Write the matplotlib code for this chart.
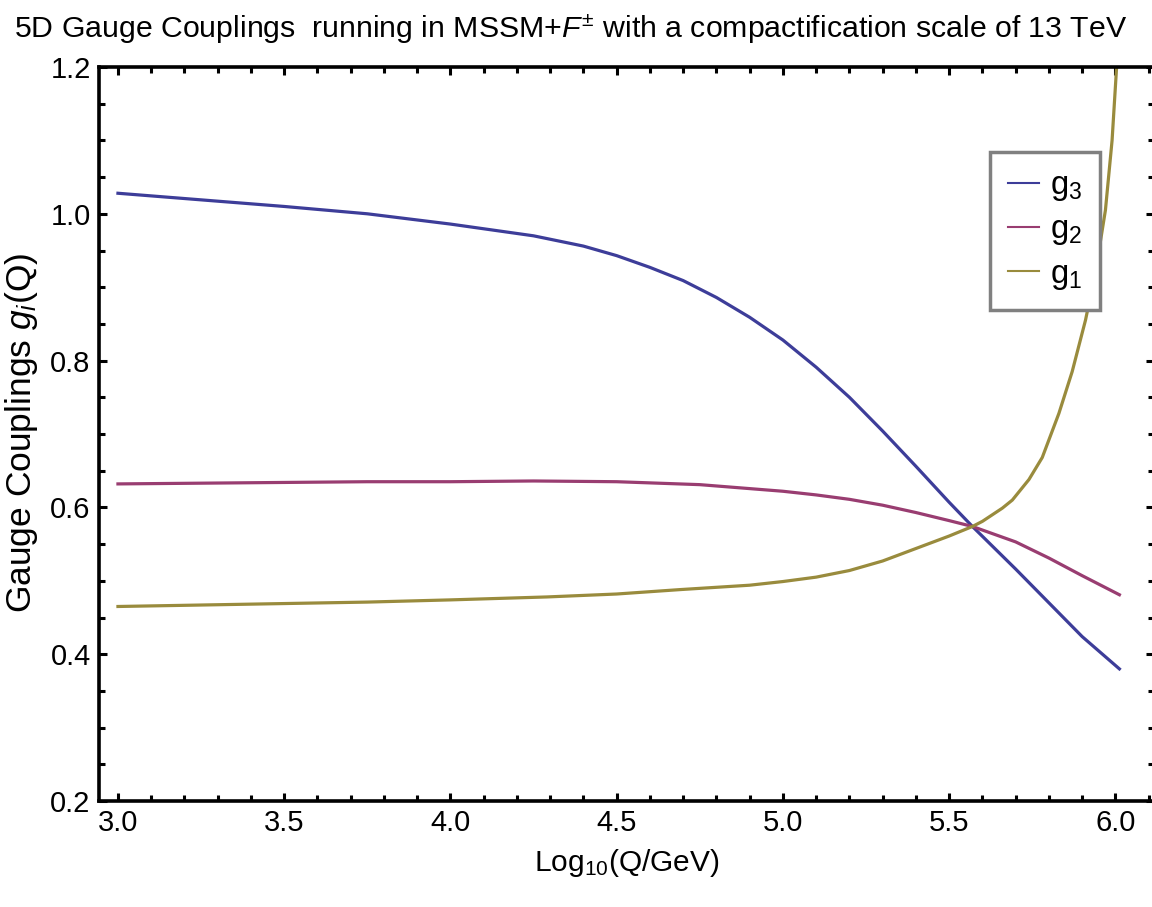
import matplotlib
matplotlib.use("Agg")
import matplotlib.pyplot as plt
from matplotlib.ticker import MultipleLocator

# values
logq_g3 = [3.0, 3.25, 3.5, 3.75, 4.0, 4.25, 4.4, 4.5, 4.6, 4.7, 4.8, 4.9, 5.0, 5.1, 5.2, 5.3, 5.4, 5.5, 5.57, 5.7, 5.8, 5.9, 6.012]
g3 = [1.028, 1.019, 1.010, 1.000, 0.986, 0.970, 0.956, 0.943, 0.927, 0.909, 0.886, 0.859, 0.828, 0.791, 0.750, 0.704, 0.656, 0.607, 0.574, 0.516, 0.470, 0.424, 0.380]

logq_g2 = [3.0, 3.25, 3.5, 3.75, 4.0, 4.25, 4.5, 4.75, 5.0, 5.1, 5.2, 5.3, 5.4, 5.5, 5.57, 5.7, 5.8, 5.9, 6.012]
g2 = [0.632, 0.633, 0.634, 0.635, 0.635, 0.636, 0.635, 0.631, 0.622, 0.617, 0.611, 0.603, 0.593, 0.582, 0.574, 0.553, 0.531, 0.507, 0.481]

logq_g1 = [3.0, 3.5, 3.75, 4.0, 4.29, 4.5, 4.69, 4.9, 5.0, 5.1, 5.2, 5.3, 5.4, 5.5, 5.57, 5.6, 5.66, 5.69, 5.74, 5.78, 5.83, 5.87, 5.91, 5.94, 5.97, 5.99, 6.005]
g1 = [0.465, 0.469, 0.471, 0.474, 0.478, 0.482, 0.488, 0.494, 0.499, 0.505, 0.514, 0.527, 0.544, 0.561, 0.574, 0.581, 0.599, 0.610, 0.638, 0.668, 0.728, 0.785, 0.855, 0.920, 1.005, 1.100, 1.210]

series = [("g$_3$", logq_g3, g3, "#3d3d99"),
          ("g$_2$", logq_g2, g2, "#993d71"),
          ("g$_1$", logq_g1, g1, "#998b3d")]


def main():
    plt.rcParams['font.family'] = ['Liberation Sans', 'DejaVu Sans']
    plt.rcParams['mathtext.fontset'] = 'custom'
    plt.rcParams['mathtext.rm'] = 'Liberation Sans'
    plt.rcParams['mathtext.it'] = 'Liberation Sans:italic'

    fig = plt.figure(figsize=(11.52, 9.07), dpi=100)
    ax = fig.add_axes([99 / 1152, 1 - 801 / 907, 1053 / 1152 + 0.002, 734 / 907])

    for label, xs, ys, color in series:
        ax.plot(xs, ys, color=color, lw=2.3, label=label)

    ax.set_xlim(2.943, 6.117)
    ax.set_ylim(0.2, 1.2)
    ax.xaxis.set_major_locator(MultipleLocator(0.5))
    ax.xaxis.set_minor_locator(MultipleLocator(0.1))
    ax.yaxis.set_major_locator(MultipleLocator(0.2))
    ax.yaxis.set_minor_locator(MultipleLocator(0.05))
    ax.xaxis.set_major_formatter(plt.FuncFormatter(lambda v, p: f"{v:.1f}"))
    ax.yaxis.set_major_formatter(plt.FuncFormatter(lambda v, p: f"{v:.1f}"))
    ax.tick_params(which='both', direction='in', top=True, right=True, width=2.2, labelsize=21)
    ax.tick_params(which='major', length=6, pad=6)
    ax.tick_params(which='minor', length=4)
    for s in ax.spines.values():
        s.set_linewidth(2.6)

    ax.set_xlabel("Log$_{10}$(Q/GeV)", fontsize=21.5, va='top')
    ax.xaxis.set_label_coords((626 - 99) / 1053, (801 - 847) / 734)
    ax.set_ylabel("Gauge Couplings $g_i$(Q)", fontsize=25.5)
    ax.yaxis.set_label_coords((40 - 99) / 1053, (801 - 433) / 734)
    fig.text(0.495, 0.968, r"5D Gauge Couplings  running in MSSM+$F^{\pm}$ with a compactification scale of 13 TeV",
             ha='center', va='center', fontsize=21.8)

    leg = ax.legend(loc='upper left', bbox_to_anchor=((988 - 99) / 1053, (801 - 152) / 734),
                    borderaxespad=0, fontsize=23.5, handlelength=0.95, handletextpad=0.35, borderpad=0.55,
                    labelspacing=0.35, fancybox=False, framealpha=1)
    leg.get_frame().set_edgecolor("#808080")
    leg.get_frame().set_linewidth(2.5)
    for h in leg.get_lines():
        h.set_linewidth(1.5)

    fig.savefig("out.png", dpi=100)


if __name__ == '__main__':
    main()
